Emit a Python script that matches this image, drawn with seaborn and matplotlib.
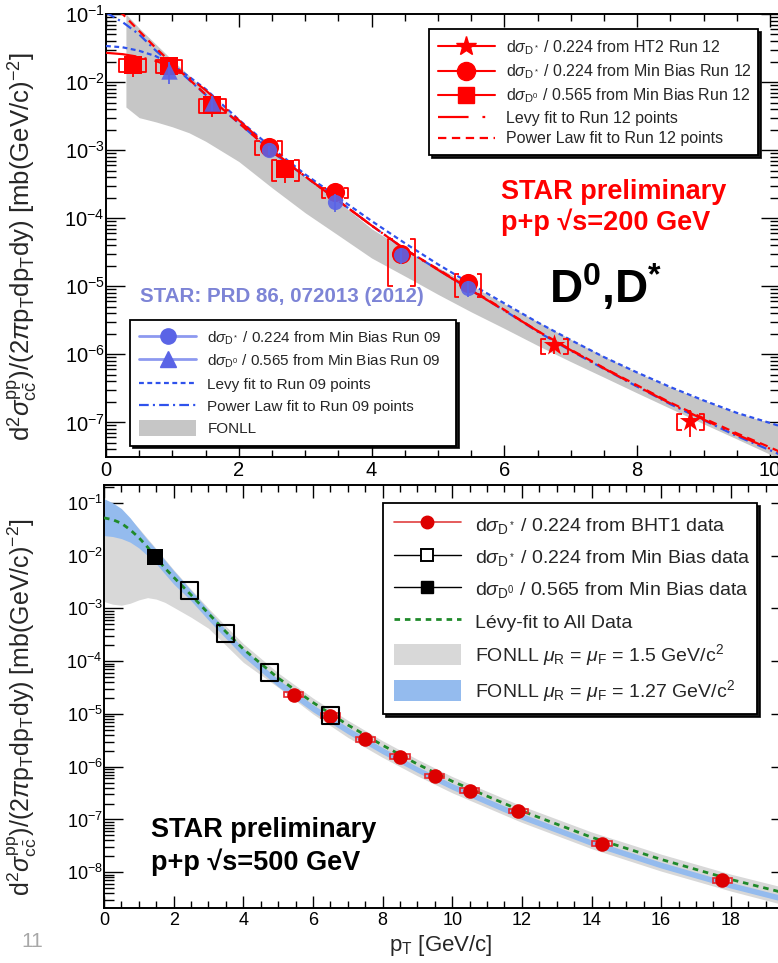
import matplotlib
matplotlib.use("Agg")
import numpy as np
import pandas as pd
import matplotlib.pyplot as plt
import seaborn as sns
from matplotlib.lines import Line2D
from matplotlib.patches import Patch
from matplotlib.ticker import LogLocator, NullFormatter, MultipleLocator

# ================= top panel : p+p 200 GeV =================
r12_d0_x = [0.4, 0.95, 1.6, 2.7]
r12_d0_y = [1.8e-2, 1.75e-2, 4.6e-3, 5.3e-4]
r12_d0_stat = [6.0e-3, 5.5e-3, 1.5e-3, 2.0e-4]
r12_d0_sys = [3.8e-3, 3.8e-3, 1.1e-3, 1.8e-4]

r12_mb_x = [2.45, 3.45, 4.45, 5.45]
r12_mb_y = [1.1e-3, 2.4e-4, 3.0e-5, 1.1e-5]
r12_mb_stat = [1.5e-4, 3.5e-5, 9.0e-6, 2.0e-6]
r12_mb_sys = [2.5e-4, 4.0e-5, 2.0e-5, 4.0e-6]

r12_ht_x = [6.75, 8.8]
r12_ht_y = [1.35e-6, 1.05e-7]
r12_ht_stat = [3.5e-7, 4.5e-8]
r12_ht_sys = [3.5e-7, 2.7e-8]

r09_dst_x = [2.45, 3.45, 4.45, 5.45]
r09_dst_y = [1.0e-3, 1.75e-4, 2.9e-5, 9.5e-6]
r09_dst_stat = [1.5e-4, 5.0e-5, 8.0e-6, 2.5e-6]

r09_d0_x = [0.95, 1.6]
r09_d0_y = [1.45e-2, 5.0e-3]
r09_d0_stat = [5.0e-3, 1.2e-3]

fit_x = [0.0, 0.25, 0.5, 0.75, 1.0, 1.25, 1.5, 2.0, 2.5, 3.0, 3.5, 4.0, 4.5,
         5.0, 5.5, 6.0, 6.5, 7.0, 7.5, 8.0, 8.5, 9.0, 9.5, 10.0, 10.2]
pl12_y = [0.132, 0.1, 0.0562, 0.0316, 0.0186, 0.011, 0.0066, 2.5e-3, 9.5e-4, 4.1e-4,
          1.8e-4, 7.8e-5, 3.5e-5, 1.78e-5, 8.9e-6, 4.5e-6, 2.2e-6, 1.17e-6, 6.3e-7,
          3.5e-7, 1.95e-7, 1.15e-7, 6.9e-8, 4.3e-8, 3.5e-8]
pl09_y = [0.105, 0.076, 0.05, 0.029, 0.0178, 0.0108, 0.0065, 2.5e-3, 9.5e-4, 4.1e-4,
          1.8e-4, 7.8e-5, 3.5e-5, 1.75e-5, 8.7e-6, 4.4e-6, 2.15e-6, 1.13e-6, 6.1e-7,
          3.35e-7, 1.85e-7, 1.08e-7, 6.3e-8, 3.9e-8, 3.2e-8]
levy12_y = [0.0269, 0.0257, 0.0234, 0.0204, 0.0166, 0.0117, 7.6e-3, 2.75e-3, 1.0e-3,
            4.1e-4, 1.8e-4, 7.8e-5, 3.5e-5, 1.74e-5, 8.7e-6, 4.4e-6, 2.2e-6, 1.15e-6,
            6.2e-7, 3.4e-7, 1.9e-7, 1.1e-7, 6.6e-8, 4.1e-8, 3.4e-8]
levy09_y = [0.0339, 0.0324, 0.0288, 0.024, 0.0178, 0.012, 7.9e-3, 2.8e-3, 1.07e-3,
            4.4e-4, 2.0e-4, 9.1e-5, 4.3e-5, 2.1e-5, 1.07e-5, 5.6e-6, 2.95e-6, 1.62e-6,
            9.1e-7, 5.4e-7, 3.3e-7, 2.1e-7, 1.38e-7, 9.8e-8, 8.5e-8]

fonll200_x = [0.3, 0.5, 0.75, 1.0, 1.25, 1.5, 2.0, 2.5, 3.0, 3.5, 4.0, 4.6, 5.0, 5.5,
              6.0, 6.5, 7.0, 7.5, 8.0, 8.5, 9.0, 9.5, 10.0, 10.2]
fonll200_hi = [0.1, 0.062, 0.036, 0.021, 0.0125, 7.3e-3, 2.7e-3, 1.0e-3, 4.0e-4, 1.75e-4,
               7.0e-5, 3.0e-5, 1.9e-5, 1.02e-5, 5.5e-6, 3.0e-6, 1.65e-6, 9.3e-7, 5.4e-7,
               3.3e-7, 2.1e-7, 1.38e-7, 9.8e-8, 8.5e-8]
fonll200_lo = [4.3e-3, 3.0e-3, 2.6e-3, 2.2e-3, 1.8e-3, 1.35e-3, 6.8e-4, 2.8e-4, 1.2e-4,
               5.6e-5, 2.6e-5, 1.25e-5, 7.6e-6, 4.2e-6, 2.4e-6, 1.35e-6, 7.8e-7, 4.6e-7,
               2.7e-7, 1.6e-7, 9.5e-8, 5.7e-8, 3.4e-8, 2.8e-8]

# ================= bottom panel : p+p 500 GeV =================
bht_x = [5.45, 6.5, 7.5, 8.5, 9.5, 10.5, 11.9, 14.3, 17.75]
bht_y = [2.3e-5, 9.3e-6, 3.3e-6, 1.55e-6, 6.7e-7, 3.5e-7, 1.45e-7, 3.5e-8, 7.0e-9]
bht_sys = [2.5e-6, 1.0e-6, 3.5e-7, 1.6e-7, 7.0e-8, 3.7e-8, 1.5e-8, 3.6e-9, 7.5e-10]

mb_dst_x = [2.45, 3.5, 4.75, 6.5]
mb_dst_y = [2.15e-3, 3.3e-4, 6.2e-5, 9.3e-6]

mb_d0_x = [1.47]
mb_d0_y = [9.3e-3]

b_x = [0.0, 0.25, 0.5, 0.75, 1.0, 1.25, 1.5, 1.75, 2.0, 2.5, 3.0, 3.5, 4.0, 5.0, 6.0,
       7.0, 8.0, 9.0, 10.0, 12.0, 14.0, 16.0, 18.0, 20.0]
levy_all_y = [5.2e-2, 4.8e-2, 4.1e-2, 3.1e-2, 2.2e-2, 1.45e-2, 9.0e-3, 5.8e-3, 3.9e-3,
              1.8e-3, 8.0e-4, 3.6e-4, 1.7e-4, 4.8e-5, 1.65e-5, 6.2e-6, 2.55e-6, 1.12e-6,
              5.3e-7, 1.45e-7, 4.6e-8, 1.75e-8, 7.3e-9, 3.4e-9]
fonll127_hi = [0.12, 0.1, 0.078, 0.052, 0.032, 0.02, 0.013, 8.2e-3, 5.2e-3, 2.2e-3, 9.2e-4,
               3.9e-4, 1.75e-4, 4.5e-5, 1.5e-5, 5.6e-6, 2.3e-6, 1.0e-6, 4.8e-7, 1.3e-7,
               4.1e-8, 1.55e-8, 6.4e-9, 2.95e-9]
fonll127_lo = [2.4e-2, 2.3e-2, 2.1e-2, 1.8e-2, 1.4e-2, 1.0e-2, 7.0e-3, 4.5e-3, 2.9e-3,
               1.4e-3, 6.0e-4, 2.7e-4, 1.22e-4, 3.3e-5, 1.1e-5, 4.2e-6, 1.75e-6, 7.8e-7,
               3.7e-7, 1.0e-7, 3.2e-8, 1.2e-8, 5.0e-9, 2.3e-9]
fonll15_hi = [0.1, 0.09, 0.072, 0.05, 0.033, 0.021, 0.0135, 8.5e-3, 5.4e-3, 2.3e-3, 1.0e-3,
              4.6e-4, 2.15e-4, 6.0e-5, 2.0e-5, 7.6e-6, 3.1e-6, 1.38e-6, 6.5e-7, 1.8e-7,
              5.8e-8, 2.2e-8, 9.2e-9, 4.3e-9]
fonll15_lo = [1.35e-3, 1.2e-3, 1.15e-3, 1.25e-3, 1.45e-3, 1.6e-3, 1.5e-3, 1.3e-3, 1.05e-3,
              6.8e-4, 4.2e-4, 2.0e-4, 9.5e-5, 3.2e-5, 1.0e-5, 3.6e-6, 1.5e-6, 6.7e-7,
              3.2e-7, 8.8e-8, 2.8e-8, 1.05e-8, 4.4e-9, 2.0e-9]

# ================= style =================
sns.set_theme(style="ticks")
plt.rcParams['font.family'] = ['Liberation Sans', 'DejaVu Sans']
plt.rcParams['mathtext.fontset'] = 'custom'
plt.rcParams['mathtext.rm'] = 'Liberation Sans'
plt.rcParams['mathtext.it'] = 'Liberation Sans:italic'
plt.rcParams['mathtext.bf'] = 'Liberation Sans:bold'
plt.rcParams['lines.scale_dashes'] = False
plt.rcParams['axes.linewidth'] = 1.4

RED = '#ff0000'
BLUE_M = '#5a64e6'
BLUE_F = '#2f52ec'
W, H = 778, 963


def fx(px):
    return px / W


def fy(py):
    return 1 - py / H


fig = plt.figure(figsize=(W / 100, H / 100), dpi=100)
ax1 = fig.add_axes([fx(106), fy(457), 674 / W, 443 / H])
ax2 = fig.add_axes([fx(104), fy(908), 686 / W, 423 / H])


def style_axis(ax, xmax, ymin, ymax, lab):
    ax.set_yscale('log')
    ax.set_xlim(0, xmax)
    ax.set_ylim(ymin, ymax)
    ax.xaxis.set_major_locator(MultipleLocator(2))
    ax.xaxis.set_minor_locator(MultipleLocator(0.5))
    ax.yaxis.set_major_locator(LogLocator(base=10, numticks=30))
    ax.yaxis.set_minor_locator(LogLocator(base=10, subs=np.arange(2, 10), numticks=30))
    ax.yaxis.set_minor_formatter(NullFormatter())
    ax.tick_params(which='both', direction='in', top=True, right=True, width=1.0,
                   labelsize=lab, colors='black')
    ax.tick_params(axis='x', which='major', length=9, pad=3)
    ax.tick_params(axis='x', which='minor', length=5)
    ax.tick_params(axis='y', which='major', length=14, pad=1)
    ax.tick_params(axis='y', which='minor', length=7)
    for s in ax.spines.values():
        s.set_color('black')
        s.set_linewidth(1.4)


def brackets(ax, x, y, sys, color, dx=0.2, tick=0.07, lw=1.3):
    for xi, yi, ei in zip(x, y, sys):
        lo, hi = yi - ei, yi + ei
        for side in (-1, 1):
            xs = xi + side * dx
            ax.plot([xs - side * tick, xs, xs, xs - side * tick], [hi, hi, lo, lo],
                    color=color, lw=lw, zorder=4, solid_capstyle='butt')


def curve(ax, x, y, color, dashes, lw=1.6, z=3):
    sns.lineplot(x=x, y=y, ax=ax, color=color, lw=lw, estimator=None, sort=False,
                 legend=False, zorder=z)
    ln = ax.lines[-1]
    if dashes is not None:
        ln.set_dashes(dashes)
    return ln


def frame(leg):
    leg.get_frame().set_edgecolor('black')
    leg.get_frame().set_linewidth(1.3)


# ---------------- top panel ----------------
style_axis(ax1, 10.15, 3.1e-8, 0.1, 14.5)
ax1.fill_between(fonll200_x, fonll200_lo, fonll200_hi, color='#c6c6c6', lw=0, zorder=1)

curve(ax1, fit_x, levy09_y, BLUE_F, (3.5, 2.5), lw=1.6)
curve(ax1, fit_x, pl09_y, BLUE_F, (7, 3, 1.5, 3), lw=1.6)
curve(ax1, fit_x, levy12_y, RED, (22, 6, 1.5, 6), lw=1.6)
curve(ax1, fit_x, pl12_y, RED, (6, 4), lw=1.6)

# run 12 (red)
brackets(ax1, r12_d0_x, r12_d0_y, r12_d0_sys, RED)
brackets(ax1, r12_mb_x, r12_mb_y, r12_mb_sys, RED)
brackets(ax1, r12_ht_x, r12_ht_y, r12_ht_sys, RED)
for xx, yy, ee in [(r12_d0_x, r12_d0_y, r12_d0_stat), (r12_mb_x, r12_mb_y, r12_mb_stat),
                   (r12_ht_x, r12_ht_y, r12_ht_stat)]:
    ax1.errorbar(xx, yy, yerr=ee, fmt='none', ecolor=RED, elinewidth=1.3, capsize=0, zorder=4)
sns.scatterplot(x=r12_d0_x, y=r12_d0_y, ax=ax1, marker='s', s=150, color=RED,
                edgecolor=RED, linewidth=0, legend=False, zorder=5)
sns.scatterplot(x=r12_mb_x, y=r12_mb_y, ax=ax1, marker='o', s=190, color=RED,
                edgecolor=RED, linewidth=0, legend=False, zorder=5)
sns.scatterplot(x=r12_ht_x, y=r12_ht_y, ax=ax1, marker='*', s=260, color=RED,
                edgecolor=RED, linewidth=0, legend=False, zorder=5)

# run 09 (blue)
ax1.errorbar(r09_dst_x, r09_dst_y, yerr=r09_dst_stat, fmt='none', ecolor=BLUE_M,
             elinewidth=1.3, capsize=0, zorder=6)
ax1.errorbar(r09_d0_x, r09_d0_y, yerr=r09_d0_stat, fmt='none', ecolor=BLUE_M,
             elinewidth=1.3, capsize=0, zorder=6)
sns.scatterplot(x=r09_dst_x, y=r09_dst_y, ax=ax1, marker='o', s=120, color=BLUE_M,
                edgecolor=BLUE_M, linewidth=0, alpha=0.9, legend=False, zorder=6)
sns.scatterplot(x=r09_d0_x, y=r09_d0_y, ax=ax1, marker='^', s=140, color=BLUE_M,
                edgecolor=BLUE_M, linewidth=0, alpha=0.9, legend=False, zorder=6)

h12 = [
    Line2D([], [], color=RED, lw=1.5, marker='*', ms=15, mec=RED, mfc=RED),
    Line2D([], [], color=RED, lw=1.5, marker='o', ms=13, mec=RED, mfc=RED),
    Line2D([], [], color=RED, lw=1.5, marker='s', ms=12, mec=RED, mfc=RED),
    Line2D([], [], color=RED, lw=1.6, dashes=(22, 10, 2, 10)),
    Line2D([], [], color=RED, lw=1.6, dashes=(6, 4)),
]
l12 = [
    r'd$\sigma_{\mathrm{D^*}}$ / 0.224 from HT2 Run 12',
    r'd$\sigma_{\mathrm{D^*}}$ / 0.224 from Min Bias Run 12',
    r'd$\sigma_{\mathrm{D^0}}$ / 0.565 from Min Bias Run 12',
    'Levy fit to Run 12 points',
    'Power Law fit to Run 12 points',
]
leg1 = ax1.legend(h12, l12, loc='upper left', bbox_to_anchor=(0.479, 0.677, 0.488, 0.289),
                  mode='expand', fontsize=11.5, frameon=True, fancybox=False,
                  shadow={'color': 'black', 'alpha': 0.9}, borderpad=0.55,
                  labelspacing=0.35, handlelength=3.6, handletextpad=0.7, numpoints=1,
                  borderaxespad=0)
frame(leg1)
ax1.add_artist(leg1)

h09 = [
    Line2D([], [], color='#8d99f0', lw=2, marker='o', ms=11, mec=BLUE_M, mfc=BLUE_M),
    Line2D([], [], color='#8d99f0', lw=2, marker='^', ms=11, mec=BLUE_M, mfc=BLUE_M),
    Line2D([], [], color=BLUE_F, lw=1.6, dashes=(3.5, 2.5)),
    Line2D([], [], color=BLUE_F, lw=1.6, dashes=(7, 3, 1.5, 3)),
    Patch(facecolor='#c6c6c6', edgecolor='none'),
]
l09 = [
    r'd$\sigma_{\mathrm{D^*}}$ / 0.224 from Min Bias Run 09',
    r'd$\sigma_{\mathrm{D^0}}$ / 0.565 from Min Bias Run 09',
    'Levy fit to Run 09 points',
    'Power Law fit to Run 09 points',
    'FONLL',
]
leg2 = ax1.legend(h09, l09, loc='upper left', bbox_to_anchor=(0.036, 0.032, 0.483, 0.277),
                  mode='expand', fontsize=11, frameon=True, fancybox=False,
                  shadow={'color': 'black', 'alpha': 0.9}, borderpad=0.6,
                  labelspacing=0.4, handlelength=3.7, handletextpad=0.75, handleheight=1.2,
                  numpoints=1, borderaxespad=0)
frame(leg2)

fig.text(fx(501), fy(192), 'STAR preliminary', color=RED, fontsize=19.5, fontweight='bold',
         va='center', ha='left')
fig.text(fx(501), fy(222), 'p+p \u221as=200 GeV', color=RED, fontsize=19.5, fontweight='bold',
         va='center', ha='left')
fig.text(fx(549), fy(288), r'D$^{\mathbf{0}}$,D$^{\mathbf{*}}$', color='black', fontsize=33,
         fontweight='bold', va='center', ha='left')
fig.text(fx(140), fy(297), 'STAR: PRD 86, 072013 (2012)', color='#7d84d6', fontsize=14.8,
         fontweight='bold', va='center', ha='left')

ylab = (r'd$^{2}$$\sigma^{\mathrm{pp}}_{\mathrm{c\bar{c}}}$)/(2$\pi$p$_{\mathrm{T}}$'
        r'dp$_{\mathrm{T}}$dy) [mb(GeV/c)$^{-2}$]')
fig.text(fx(23), fy(247), ylab, rotation=90, fontsize=18.5, va='center', ha='center')

# ---------------- bottom panel ----------------
style_axis(ax2, 19.7, 2.1e-9, 0.218, 13)
ax2.fill_between(b_x, fonll15_lo, fonll15_hi, color='#d8d8d8', lw=0, zorder=1)
ax2.fill_between(b_x, fonll127_lo, fonll127_hi, color='#94bbee', lw=0, zorder=2)
curve(ax2, b_x, levy_all_y, '#1f8a2a', (4, 3.5), lw=2.0, z=3)

ax2.bar(bht_x, [2 * e for e in bht_sys], bottom=[y - e for y, e in zip(bht_y, bht_sys)],
        width=0.55, fill=False, edgecolor='#e8252b', linewidth=1.2, zorder=4)
sns.scatterplot(x=bht_x, y=bht_y, ax=ax2, marker='o', s=110, color='#dd0000',
                edgecolor='#dd0000', linewidth=0, legend=False, zorder=5)
sns.scatterplot(x=mb_dst_x, y=mb_dst_y, ax=ax2, marker='s', s=150, color='none',
                edgecolor='black', linewidth=1.5, legend=False, zorder=6)
sns.scatterplot(x=mb_d0_x, y=mb_d0_y, ax=ax2, marker='s', s=140, color='black',
                edgecolor='black', linewidth=0, legend=False, zorder=6)

h5 = [
    Line2D([], [], color='#e04040', lw=1.2, marker='o', ms=9, mec='#dd0000', mfc='#dd0000'),
    Line2D([], [], color='black', lw=1.0, marker='s', ms=9, mec='black', mfc='white', mew=1.4),
    Line2D([], [], color='black', lw=1.0, marker='s', ms=9, mec='black', mfc='black'),
    Line2D([], [], color='#1f8a2a', lw=2.0, dashes=(4, 3.5)),
    Patch(facecolor='#d8d8d8', edgecolor='none'),
    Patch(facecolor='#94bbee', edgecolor='none'),
]
l5 = [
    r'd$\sigma_{\mathrm{D^*}}$ / 0.224 from BHT1 data',
    r'd$\sigma_{\mathrm{D^*}}$ / 0.224 from Min Bias data',
    r'd$\sigma_{\mathrm{D^0}}$ / 0.565 from Min Bias data',
    'L\u00e9vy-fit to All Data',
    r'FONLL $\mu_{\mathrm{R}}$ = $\mu_{\mathrm{F}}$ = 1.5 GeV/c$^{2}$',
    r'FONLL $\mu_{\mathrm{R}}$ = $\mu_{\mathrm{F}}$ = 1.27 GeV/c$^{2}$',
]
leg3 = ax2.legend(h5, l5, loc='upper left', bbox_to_anchor=(0.407, 0.454, 0.545, 0.503),
                  mode='expand', fontsize=14, frameon=True, fancybox=False,
                  shadow={'color': 'black', 'alpha': 0.9}, borderpad=0.55,
                  labelspacing=0.52, handlelength=3.45, handletextpad=0.7, handleheight=1.3,
                  numpoints=1, borderaxespad=0)
frame(leg3)

fig.text(fx(151), fy(830), 'STAR preliminary', color='black', fontsize=19.5, fontweight='bold',
         va='center', ha='left')
fig.text(fx(151), fy(862), 'p+p \u221as=500 GeV', color='black', fontsize=19.5, fontweight='bold',
         va='center', ha='left')
fig.text(fx(22), fy(707), ylab, rotation=90, fontsize=18, va='center', ha='center')
fig.text(fx(441), fy(945), r'p$_{\mathrm{T}}$ [GeV/c]', fontsize=16, va='center', ha='center')
fig.text(fx(32), fy(941), '11', color='#a8a8a8', fontsize=15, va='center', ha='center')

fig.savefig('out.png', dpi=100)
